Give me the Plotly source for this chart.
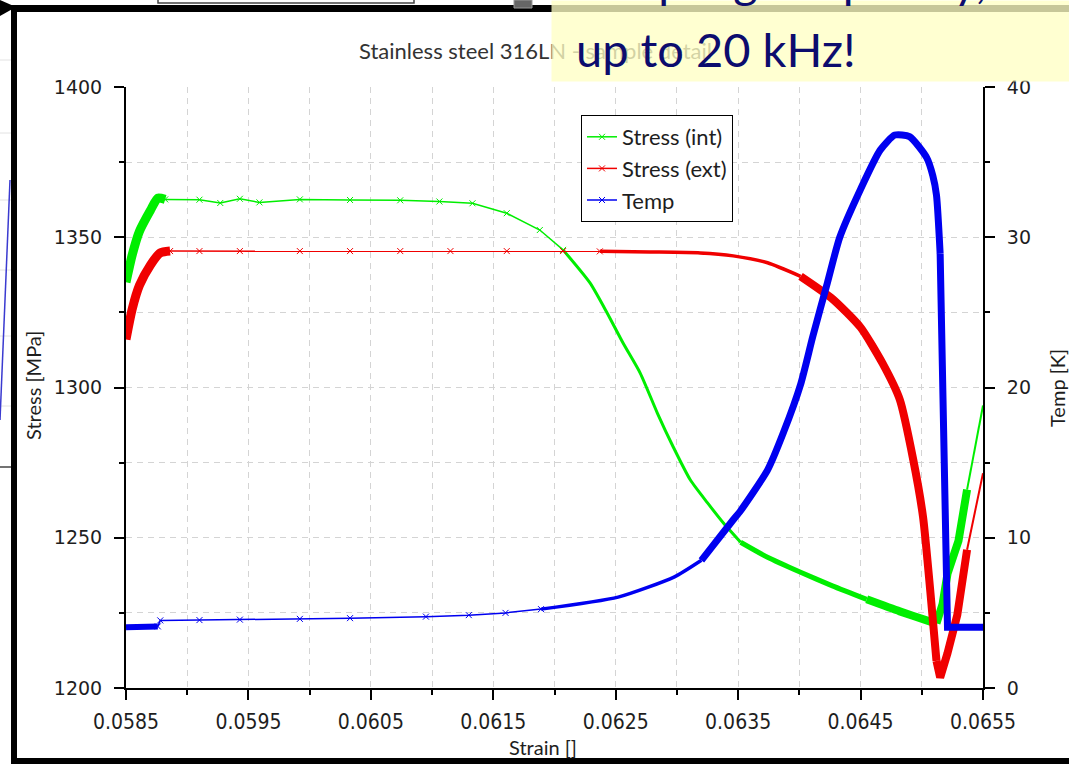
import plotly.graph_objects as go

# ---------------- data ----------------
green_strain = [0.05850, 0.05855, 0.05861, 0.05870, 0.05876, 0.05882, 0.05910, 0.05927,
                0.05943, 0.05959, 0.05992, 0.06033, 0.06074, 0.06106, 0.06133, 0.06161,
                0.06188, 0.06207, 0.06229, 0.06243, 0.06256, 0.06270, 0.06284, 0.06297,
                0.06311, 0.06325, 0.06338, 0.06352, 0.06374, 0.06401, 0.06427, 0.06455,
                0.06482, 0.06504, 0.06512, 0.06517, 0.06521, 0.06530, 0.06537, 0.06550]
green_stress = [1335, 1344, 1352, 1359, 1363, 1362.6, 1362.5, 1361.4,
                1362.8, 1361.6, 1362.6, 1362.4, 1362.3, 1361.9, 1361.3, 1358,
                1352.4, 1345.8, 1334.8, 1324.8, 1314.8, 1304.8, 1291.5, 1280.2,
                1269.2, 1261.6, 1254.9, 1248.5, 1243.5, 1238.5, 1234, 1229.5,
                1225.5, 1222.5, 1221.5, 1228, 1238, 1249, 1266, 1294]

red_strain = [0.05850, 0.05855, 0.05861, 0.05870, 0.05878, 0.05886, 0.05910, 0.05943,
              0.05992, 0.06033, 0.06074, 0.06115, 0.06161, 0.06207, 0.06237, 0.06278,
              0.06319, 0.06346, 0.06374, 0.06401, 0.06427, 0.06450, 0.06468, 0.06482,
              0.06493, 0.06501, 0.06507, 0.06512, 0.06515, 0.06521, 0.06529, 0.06537,
              0.06550]
red_stress = [1316, 1326, 1334, 1340.8, 1344.8, 1345.4, 1345.4, 1345.4,
              1345.4, 1345.4, 1345.4, 1345.4, 1345.4, 1345.4, 1345.3, 1345.1,
              1344.8, 1343.8, 1341.5, 1337, 1329.5, 1320, 1308, 1296,
              1276, 1257, 1232, 1209, 1203.5, 1211.6, 1224.3, 1246,
              1271.5]

blue_strain = [0.05850, 0.05876, 0.05878, 0.05910, 0.05943, 0.05992, 0.06033, 0.06095,
               0.06130, 0.06160, 0.06189, 0.06252, 0.06298, 0.06320, 0.06346, 0.06352,
               0.06374, 0.06387, 0.06401, 0.06411, 0.06423, 0.06433, 0.06450, 0.06466,
               0.06478, 0.06490, 0.06504, 0.06509, 0.06512, 0.06515, 0.06517, 0.06519,
               0.06521, 0.06550]
blue_temp = [4.05, 4.1, 4.5, 4.52, 4.55, 4.6, 4.65, 4.75,
             4.85, 5.0, 5.25, 6.05, 7.4, 8.5, 11.2, 11.8,
             14.5, 17.0, 20.2, 23.4, 27.0, 30.0, 33.2, 35.8,
             36.8, 36.7, 35.3, 34.1, 32.8, 28.9, 18.8, 8.5,
             4.05, 4.05]

series_names = ["Stress (int)", "Stress (ext)", "Temp"]
x_tick_vals = [0.0585, 0.0595, 0.0605, 0.0615, 0.0625, 0.0635, 0.0645, 0.0655]

# ---------------- styling ----------------
W, H = 1069, 764
GREEN, RED, BLUE = "#00ee00", "#f00000", "#0000f0"


def px(x):
    return x / W


def py(y):
    return 1 - y / H


# (lo, hi, line width, thin-with-markers?, smooth?)
green_style = [(0.05850, 0.05882, 9, False, True), (0.05882, 0.06207, 1.5, True, False),
               (0.06207, 0.06352, 3, False, True), (0.06352, 0.06455, 5, False, True),
               (0.06455, 0.06512, 8, False, True), (0.06512, 0.06537, 8, False, False),
               (0.06537, 0.06550, 2, False, False)]
red_style = [(0.05850, 0.05886, 9, False, True), (0.05886, 0.06237, 1.5, True, False),
             (0.06237, 0.06401, 3.5, False, True), (0.06401, 0.06512, 8, False, True),
             (0.06512, 0.06537, 8, False, False), (0.06537, 0.06550, 2, False, False)]
blue_style = [(0.05850, 0.05876, 6, False, False), (0.05876, 0.06189, 1.5, True, False),
              (0.06189, 0.06320, 3.5, False, True), (0.06320, 0.06515, 7, False, True),
              (0.06515, 0.06550, 7, False, False)]

fig = go.Figure()


def add_series(xs, ys, name, color, style, yaxis):
    for lo, hi, w, thin, smooth in style:
        idx = [i for i, v in enumerate(xs) if lo - 1e-9 <= v <= hi + 1e-9]
        sx = [xs[i] for i in idx]
        sy = [ys[i] for i in idx]
        fig.add_trace(go.Scatter(
            x=sx, y=sy, yaxis=yaxis, name=name, legendgroup=name,
            showlegend=thin,
            mode="lines+markers" if thin else "lines",
            line=dict(color=color, width=w, shape="spline" if smooth else "linear",
                      smoothing=0.6),
            marker=dict(symbol="x-thin", size=6, line=dict(width=1, color=color)),
            hoverinfo="skip"))


add_series(green_strain, green_stress, series_names[0], GREEN, green_style, "y")
add_series(red_strain, red_stress, series_names[1], RED, red_style, "y")
add_series(blue_strain, blue_temp, series_names[2], BLUE, blue_style, "y2")

xdom = [px(126), px(983)]
ydom = [py(688), py(87)]
grid = "#d4d4d4"
dash = "6px,5px"
tickfont_y = dict(family="DejaVu Sans", size=19, color="#1e1e1e")
tickfont_x = dict(family="DejaVu Sans Condensed, Roboto, sans-serif", size=21, color="#1e1e1e")

fig.update_layout(
    width=W, height=H, margin=dict(l=0, r=0, t=0, b=0, pad=0, autoexpand=False),
    paper_bgcolor="white", plot_bgcolor="white",
    showlegend=True,
    legend=dict(x=px(581), y=py(115), xanchor="left", yanchor="top",
                bgcolor="white", bordercolor="black", borderwidth=1,
                font=dict(family="Lato", size=22, color="#1e1e1e"),
                tracegroupgap=0, itemwidth=30),
    xaxis=dict(domain=xdom, range=[0.0585, 0.0655], anchor="y", automargin=False,
               tickmode="array", tickvals=x_tick_vals, ticktext=[f"{v:.4f}" for v in x_tick_vals],
               ticks="outside", ticklen=10, tickwidth=1.5, tickcolor="black",
               showline=True, linecolor="black", linewidth=2,
               showgrid=True, gridcolor=grid, griddash=dash, gridwidth=1,
               zeroline=False, tickfont=tickfont_x, ticklabelstandoff=4,
               minor=dict(tick0=0.0585, dtick=0.0005, ticks="outside", ticklen=5,
                          tickwidth=1.5, tickcolor="black", showgrid=True,
                          gridcolor=grid, griddash=dash, gridwidth=1)),
    xaxis3=dict(domain=xdom, range=[0.0585, 0.0655], anchor="y", overlaying="x", automargin=False,
                tick0=0.0585, dtick=0.001, ticks="inside", ticklen=10, tickwidth=1.5,
                tickcolor="black", showticklabels=False, showgrid=False, showline=False,
                zeroline=False,
                minor=dict(tick0=0.0585, dtick=0.0005, ticks="inside", ticklen=5,
                           tickwidth=1.5, tickcolor="black")),
    yaxis=dict(domain=ydom, range=[1200, 1400], anchor="x", automargin=False,
               tick0=1200, dtick=50, ticks="outside", ticklen=10, tickwidth=1.5,
               tickcolor="black", showline=True, linecolor="black", linewidth=2,
               showgrid=True, gridcolor=grid, griddash=dash, gridwidth=1,
               zeroline=False, tickfont=tickfont_y, ticklabelstandoff=8,
               minor=dict(tick0=1200, dtick=25, ticks="outside", ticklen=5,
                          tickwidth=1.5, tickcolor="black", showgrid=True,
                          gridcolor=grid, griddash=dash, gridwidth=1)),
    yaxis3=dict(domain=ydom, range=[1200, 1400], anchor="x", overlaying="y", side="left",
                automargin=False,
                tick0=1200, dtick=50, ticks="inside", ticklen=10, tickwidth=1.5,
                tickcolor="black", showticklabels=False, showgrid=False, showline=False,
                zeroline=False,
                minor=dict(tick0=1200, dtick=25, ticks="inside", ticklen=5,
                           tickwidth=1.5, tickcolor="black")),
    yaxis2=dict(domain=ydom, range=[0, 40], anchor="x", overlaying="y", side="right",
                automargin=False,
                tick0=0, dtick=10, ticks="outside", ticklen=10, tickwidth=1.5,
                tickcolor="black", showline=True, linecolor="black", linewidth=2,
                showgrid=False, zeroline=False, tickfont=tickfont_y, ticklabelstandoff=8,
                minor=dict(tick0=0, dtick=5, ticks="outside", ticklen=5,
                           tickwidth=1.5, tickcolor="black")),
    yaxis4=dict(domain=ydom, range=[0, 40], anchor="x", overlaying="y", side="right",
                automargin=False,
                tick0=0, dtick=10, ticks="inside", ticklen=10, tickwidth=1.5,
                tickcolor="black", showticklabels=False, showgrid=False, showline=False,
                zeroline=False,
                minor=dict(tick0=0, dtick=5, ticks="inside", ticklen=5,
                           tickwidth=1.5, tickcolor="black")),
)

# ---------------- slide decorations ----------------
shapes = []
# black frame of the pasted chart
shapes.append(dict(type="rect", xref="paper", yref="paper", x0=px(11), x1=1, y0=py(12), y1=py(5),
                   fillcolor="black", line=dict(width=0)))
shapes.append(dict(type="rect", xref="paper", yref="paper", x0=px(11), x1=px(17), y0=0, y1=py(5),
                   fillcolor="black", line=dict(width=0)))
shapes.append(dict(type="rect", xref="paper", yref="paper", x0=px(11), x1=1, y0=0, y1=py(758),
                   fillcolor="black", line=dict(width=0)))
# arrow tip top-left
shapes.append(dict(type="path", xref="paper", yref="paper",
                   path=f"M 0 {py(0)} L {px(16)} {py(7)} L 0 {py(16)} Z",
                   fillcolor="black", line=dict(width=0)))
# bits of the slide behind
shapes.append(dict(type="rect", xref="paper", yref="paper", x0=px(158), x1=px(414), y0=py(3), y1=py(-5),
                   fillcolor="rgba(0,0,0,0)", line=dict(color="#444", width=1.5)))
shapes.append(dict(type="rect", xref="paper", yref="paper", x0=px(514), x1=px(532), y0=py(8), y1=1,
                   fillcolor="#666", line=dict(color="#999", width=1)))
for gy in [60, 133, 200, 270, 336, 406]:
    shapes.append(dict(type="line", xref="paper", yref="paper", x0=0, x1=px(11), y0=py(gy), y1=py(gy),
                       line=dict(color="#e2e2e2", width=1)))
shapes.append(dict(type="line", xref="paper", yref="paper", x0=0, x1=px(11), y0=py(467), y1=py(467),
                   line=dict(color="#444", width=1.5)))
shapes.append(dict(type="line", xref="paper", yref="paper", x0=px(10), x1=0, y0=py(180), y1=py(420),
                   line=dict(color="#3a3ad0", width=1.5)))
fig.update_layout(shapes=shapes)

annotations = [
    # chart title (partly covered by the yellow box)
    dict(text="Stainless steel 316LN - sample detail", xref="paper", yref="paper",
         x=px(357), y=py(50), xanchor="left", yanchor="middle", showarrow=False,
         font=dict(family="Lato", size=22, color="#333")),
    # semi-transparent yellow text box of the slide
    dict(text=" ", xref="paper", yref="paper", x=px(551), y=1, xanchor="left", yanchor="top",
         width=W - 551, height=80, borderpad=0, bgcolor="rgba(255,255,196,0.78)",
         showarrow=False, font=dict(size=10)),
    dict(text="sampling frequency,", xref="paper", yref="paper", x=px(574), y=py(-20),
         xanchor="left", yanchor="middle", showarrow=False,
         font=dict(family="Lato", size=47, color="#0c0c6e")),
    dict(text="up to 20 kHz!", xref="paper", yref="paper", x=px(574), y=py(49),
         xanchor="left", yanchor="middle", showarrow=False,
         font=dict(family="Lato", size=47, color="#0c0c6e")),
    # axis titles
    dict(text="Stress [MPa]", xref="paper", yref="paper", x=px(33), y=py(386),
         xanchor="center", yanchor="middle",
         textangle=-90, showarrow=False, font=dict(family="Lato", size=20, color="#1e1e1e")),
    dict(text="Temp [K]", xref="paper", yref="paper", x=px(1057), y=py(388),
         xanchor="center", yanchor="middle",
         textangle=-90, showarrow=False, font=dict(family="Lato", size=20, color="#1e1e1e")),
    dict(text="Strain []", xref="paper", yref="paper", x=px(543), y=py(747),
         xanchor="center", yanchor="middle",
         showarrow=False, font=dict(family="Lato", size=20, color="#1e1e1e")),
]
fig.update_layout(annotations=annotations)

fig.write_html("out.html")
